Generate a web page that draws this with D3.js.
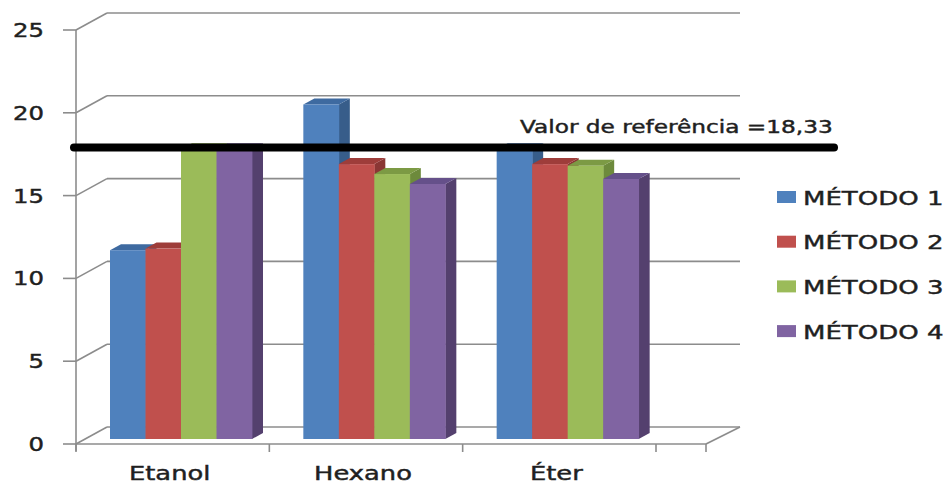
<!DOCTYPE html>
<html>
<head>
<meta charset="utf-8">
<script src="https://cdn.jsdelivr.net/npm/d3@7"></script>
<style>
  body { margin: 0; background: #fff; }
  svg text { font-family: "DejaVu Sans", sans-serif; fill: #1f1f1f; stroke: #1f1f1f; stroke-width: 0.45px; }
</style>
</head>
<body>
<div id="chart"></div>
<script>
// data
const categories = ["Etanol", "Hexano", "Éter"];
const seriesNames = ["MÉTODO 1", "MÉTODO 2", "MÉTODO 3", "MÉTODO 4"];
const metodo1 = [11.4, 20.2, 17.5];
const metodo2 = [11.5, 16.6, 16.6];
const metodo3 = [17.5, 16.0, 16.5];
const metodo4 = [17.5, 15.4, 15.7];
const yTicks = [0, 5, 10, 15, 20, 25];
const refLabel = "Valor de referência =18,33";
const refLineLevel = 17.9;   // where the drawn line sits on the front scale

const series = [metodo1, metodo2, metodo3, metodo4];

const front = ["#4F81BD", "#C0504D", "#9BBB59", "#8064A2"],
      topCol = ["#3E6AA0", "#9E3D3A", "#7C9A44", "#65508A"],
      sideCol = ["#375D8A", "#8A3634", "#6D8A3C", "#54406E"];

const width = 947, height = 485;

let svg = d3.select("#chart")
    .append("svg")
    .attr("width", width)
    .attr("height", height);

let y = d3.scaleLinear()
    .domain([0, 25])
    .range([444, 30]);

let x = d3.scaleBand()
    .domain(categories)
    .range([76, 656]);

let inner = d3.scaleBand()
    .domain(d3.range(seriesNames.length))
    .range([0, 142]);

// depth of the walls and of the bars
let wall = {dx: 31, dy: -17},
    barOff = {dx: 34, dy: -5},
    barDepth = {dx: 11, dy: -6};

// the picture is stretched sideways, so the text is too
function label(g, txt, tx, ty, anchor, size, sx) {
    return g.append("text")
        .attr("transform", "translate(" + tx + "," + ty + ") scale(" + sx + ",1)")
        .attr("text-anchor", anchor)
        .style("font-size", size + "px")
        .text(txt);
}

let grid = svg.append("g")
    .attr("stroke", "#8c8c8c")
    .attr("stroke-width", 1.6)
    .attr("fill", "none");

// back wall lines
grid.selectAll(".back")
    .data(yTicks)
    .enter()
    .append("line")
    .attr("x1", 76 + wall.dx)
    .attr("x2", 740)
    .attr("y1", d => y(d) + wall.dy)
    .attr("y2", d => y(d) + wall.dy);

// side wall diagonals
grid.selectAll(".side")
    .data(yTicks)
    .enter()
    .append("line")
    .attr("x1", 76)
    .attr("x2", 76 + wall.dx)
    .attr("y1", d => y(d))
    .attr("y2", d => y(d) + wall.dy);

// floor right edge
grid.append("line")
    .attr("x1", 706).attr("y1", y(0))
    .attr("x2", 740).attr("y2", y(0) + wall.dy);

// y axis
grid.append("line")
    .attr("x1", 76).attr("x2", 76)
    .attr("y1", y(25)).attr("y2", y(0) + 7);

grid.selectAll(".ytick")
    .data(yTicks)
    .enter()
    .append("line")
    .attr("x1", 63).attr("x2", 76)
    .attr("y1", d => y(d)).attr("y2", d => y(d));

// x axis + category ticks
grid.append("line")
    .attr("x1", 76).attr("x2", 706)
    .attr("y1", y(0)).attr("y2", y(0));

let xTicks = categories.map(c => x(c)).concat([x.range()[1], 706]);
grid.selectAll(".xtick")
    .data(xTicks)
    .enter()
    .append("line")
    .attr("x1", d => d).attr("x2", d => d)
    .attr("y1", y(0)).attr("y2", y(0) + 8);

let labels = svg.append("g");
yTicks.forEach(t => {
    label(labels, t, 44, y(t) + 7, "end", 19, 1.28);
});
categories.forEach(c => {
    label(labels, c, x(c) + x.bandwidth() / 2 - 3, 480, "middle", 19.5, 1.32);
});

// bars, drawn left to right so the next front face hides the previous side
let bars = svg.append("g");
categories.forEach((c, ci) => {
    series.forEach((s, si) => {
        let x0 = x(c) + barOff.dx + inner(si),
            x1 = x0 + inner.bandwidth(),
            yb = y(0) + barOff.dy,
            yt = y(s[ci]) + barOff.dy,
            dx = barDepth.dx, dy = barDepth.dy;
        bars.append("polygon")
            .attr("points", [[x1, yt], [x1 + dx, yt + dy], [x1 + dx, yb + dy], [x1, yb]].join(" "))
            .attr("fill", sideCol[si]);
        bars.append("polygon")
            .attr("points", [[x0, yt], [x1, yt], [x1 + dx, yt + dy], [x0 + dx, yt + dy]].join(" "))
            .attr("fill", topCol[si]);
        bars.append("rect")
            .attr("x", x0)
            .attr("y", yt)
            .attr("width", inner.bandwidth() + 0.4)
            .attr("height", yb - yt)
            .attr("fill", front[si]);
    });
});

// reference line
svg.append("line")
    .attr("x1", 74).attr("x2", 834)
    .attr("y1", y(refLineLevel)).attr("y2", y(refLineLevel))
    .attr("stroke", "#000")
    .attr("stroke-width", 8)
    .attr("stroke-linecap", "round");

label(svg, refLabel, 520, 133, "start", 18, 1.29);

// legend
let legend = svg.append("g");
seriesNames.forEach((n, i) => {
    let cy = 197 + i * 44.7;
    legend.append("rect")
        .attr("x", 777).attr("y", cy - 6)
        .attr("width", 19).attr("height", 12)
        .attr("fill", front[i]);
    label(legend, n, 803, cy + 7.5, "start", 20, 1.3);
});
</script>
</body>
</html>
